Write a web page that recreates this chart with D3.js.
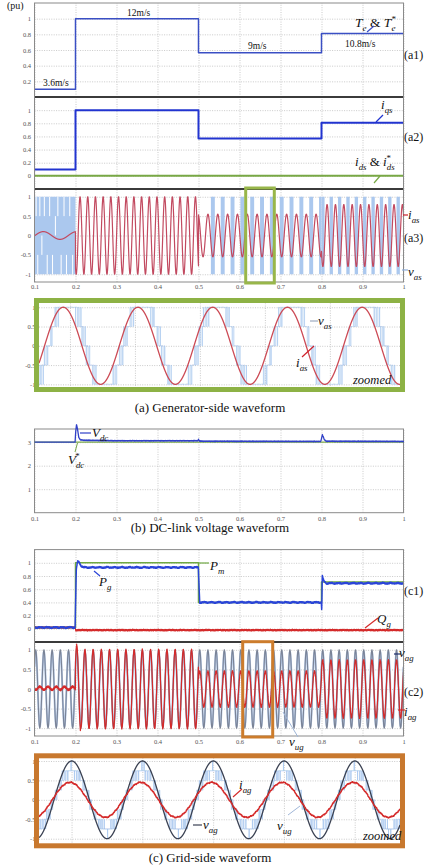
<!DOCTYPE html>
<html><head><meta charset="utf-8">
<script src="https://cdn.jsdelivr.net/npm/d3@7"></script>
<style>body{margin:0;background:#fff}svg{display:block}text{font-family:"Liberation Serif","Times New Roman",serif;fill:#111}</style>
</head><body><svg id="c" width="425" height="867"></svg>
<script>
// ================= DATA =================
const xTicks = [0.1,0.2,0.3,0.4,0.5,0.6,0.7,0.8,0.9,1];
const xTickLabels = ["0.1","0.2","0.3","0.4","0.5","0.6","0.7","0.8","0.9","1"];
const segT = [0.1,0.2,0.5,0.8,1.0];
const windLabels = ["3.6m/s","12m/s","9m/s","10.8m/s"];
// (a1) torque
const teVals = [0.1,1.0,0.565,0.81];
const a1Ticks = [0.2,0.4,0.6,0.8,1], a1Labels = ["0.2","0.4","0.6","0.8","1"];
// (a2) currents
const iqsVals = [0.095,1.0,0.57,0.81];
const idsVals = [0,0,0,0];
const a2Ticks = [0,0.2,0.4,0.6,0.8,1], a2Labels = ["0","0.2","0.4","0.6","0.8","1"];
// (a3) stator current / voltage
const pmTicks = [-1,-0.5,0,0.5,1], pmLabels = ["-1","-0.5","0","0.5","1"];
const iasAmp = [0.1,1.0,0.55,0.8];
const iasFreq = [12.3,53.3,41.7,49];
const iasPeak = [0.1215,0.2111,0.571,0.8136];
const vasGapT  = [0.104,0.108,0.113,0.118,0.124,0.131,0.137,0.144,0.151,0.157,0.165,0.172,0.178,0.186,0.193];
const vasGapLo = [0.5,-1,0.5,-0.5,0.5,-1,0.5,-1,0,0.5,-1,0.5,-1,0.5,-1];
const vasGapHi = [1,-0.5,1,0,1,-0.5,1,-0.5,0.5,1,-0.5,1,-0.5,1,-0.5];
// zoomed (a)
const zaWindow = [0.615,0.685];
const zaFreq = 69, zaPeak = 0.6197, zaIasAmp = 1.0;
const zaVasAmp = 1.25, zaVasLag = 0.0008, zaCarrier = 2400, zaStep = 0.5;
const zaGrid = [0.621,0.6336,0.6462,0.6588,0.6714];
const zTicks = [-1,-0.5,0,0.5,1], zLabels = ["-1","-0.5","0","0.5","1"];
// (b) DC link
const bTicks = [1,2,3], bLabels = ["1","2","3"];
const vdcT = [0.1,0.199,0.2005,0.2025,0.205,0.208,0.212,0.22,0.3,0.498,0.5,0.502,0.51,0.798,0.8,0.802,0.804,0.807,0.812,1.0];
const vdcV = [3.0,3.0,3.45,3.75,3.55,3.2,3.1,3.08,3.06,3.06,3.12,3.05,3.04,3.03,3.15,3.32,3.25,3.1,3.04,3.03];
const vdcRef = 3.0;
// (c1) powers
const c1Ticks = [0,0.2,0.4,0.6,0.8,1], c1Labels = ["0","0.2","0.4","0.6","0.8","1"];
const pmVals = [0.02,1.0,0.4,0.71];
const pgT = [0.1,0.199,0.202,0.205,0.209,0.214,0.22,0.4995,0.503,0.7995,0.8005,0.802,0.806,0.812,1.0];
const pgV = [0.02,0.02,0.9,1.02,1.01,0.95,0.93,0.93,0.4,0.4,0.28,0.8,0.72,0.69,0.69];
const qgVals = [0.02,-0.02,-0.02,-0.02];
// (c2) grid voltage / current
const gridFreq = 50, vagAmp = 1.0, vagPeak = 0.103, vugAmp = 0.95;
const iagAmp = [-0.04,1.0,0.45,0.73];
const iagOff = [0.02,0,0,0];
const iagOvershoot = 1.12;
// zoomed (c)
const zcWindow = [0.615,0.717];
const zcVagPeak = 0.62424, zcIagAmp = 0.45, zcIagLead = 0.0005;
const zcVugAmp = 0.76, zcCarrier = 1600, zcStep = 0.25;
const zcGrid = [0.6242,0.6442,0.6642,0.6842,0.7042];
// ripple texture
const rippleF = [731,1937,3571,5113], rippleA = [0.5,0.3,0.25,0.15];

// ================= HELPERS =================
const svg = d3.select('#c');
const X0 = 34.5, X1 = 403.5;
const X = d3.scaleLinear().domain([0.1,1]).range([X0,X1]);
const TAU = Math.PI*2;
const ripple = t => rippleF.reduce((s,f,i)=>s+rippleA[i]*Math.sin(TAU*f*t+i*1.7),0);
const seg = t => Math.max(0,Math.min(3, d3.bisectRight(segT,t)-1));
const samples = (a,b,n) => d3.range(n+1).map(i=>a+(b-a)*i/n);
const SANS = 'Liberation Sans, Arial, sans-serif';

function styleAxis(a){
  a.select('.domain').remove();
  a.selectAll('.tick line').attr('stroke','#bdbdbd').attr('stroke-dasharray','1,1.4').attr('stroke-width',0.8);
  a.selectAll('text').attr('font-family',SANS).attr('font-size',6.5).style('fill','#555');
}
function panel(top,bottom,dom,yt,yl,showX,pad,xs,xt,x0,x1){
  xs = xs||X; xt = xt||xTicks; x0 = x0||X0; x1 = x1||X1;
  const y = d3.scaleLinear().domain(dom).range([bottom,top]);
  svg.append('g').attr('transform',`translate(0,${bottom})`)
    .call(d3.axisBottom(xs).tickValues(xt).tickFormat((d,i)=>showX?xTickLabels[i]:'').tickSize(-(bottom-top)).tickPadding(pad||3))
    .call(styleAxis);
  svg.append('g').attr('transform',`translate(${x0},0)`)
    .call(d3.axisLeft(y).tickValues(yt).tickFormat((d,i)=>yl[i]).tickSize(-(x1-x0)).tickPadding(3.5))
    .call(styleAxis);
  return y;
}
function frame(top,bottom){
  svg.append('rect').attr('x',X0).attr('y',top).attr('width',X1-X0).attr('height',bottom-top)
    .attr('fill','none').attr('stroke','#8a8a8a').attr('stroke-width',1);
}
function clip(id,x,y,w,h){
  svg.append('clipPath').attr('id',id).append('rect').attr('x',x).attr('y',y).attr('width',w).attr('height',h);
  return `url(#${id})`;
}
function path(data,xs,ys,color,w,cp,curve){
  const ln = d3.line().x(d=>xs(d[0])).y(d=>ys(d[1]));
  if(curve) ln.curve(curve);
  const p = svg.append('path').attr('d',ln(data)).attr('fill','none').attr('stroke',color).attr('stroke-width',w).attr('stroke-linejoin','round');
  if(cp) p.attr('clip-path',cp);
  return p;
}
function stepData(vals){ return segT.map((t,i)=>[t, vals[Math.min(i,vals.length-1)]]); }
function lead(x1,y1,x2,y2,c,w){ svg.append('line').attr('x1',x1).attr('y1',y1).attr('x2',x2).attr('y2',y2).attr('stroke',c).attr('stroke-width',w||1); }
function lab(x,y,parts,size){
  const t = svg.append('text').attr('x',x).attr('y',y).attr('font-size',size);
  let cur = 0;
  parts.forEach(p=>{
    const ts = t.append('tspan').text(p.s).attr('font-style',p.it?'italic':'normal');
    let target = 0, fs = size;
    if(p.sub){target = size*0.28; fs = size*0.68;}
    if(p.sup){target = -size*0.38; fs = size*0.68;}
    ts.attr('font-size',fs).attr('dy',target-cur);
    if(p.dx) ts.attr('dx',p.dx);
    cur = target;
  });
  return t;
}
function pwm(t,ref,fc,step){
  let r = ref(t);
  const ph = (t*fc)%1; const tri = Math.abs(ph*2-1);
  const b = Math.floor(r/step); const fr = r/step-b;
  return Math.max(-1,Math.min(1,step*(b+(fr>tri?1:0))));
}

// ================= (a1) =================
lab(7,9,[{s:'(pu)'}],10);
const yA1 = panel(3,97,[0,1.2],a1Ticks,a1Labels,false);
const cpA1 = clip('ca1',X0,3,X1-X0,94);
path(stepData(teVals),X,yA1,'#3a4fc4',1.5,cpA1,d3.curveStepAfter);
const wlPos = [[43,86],[127,16],[248,49],[345,47]];
windLabels.forEach((w,i)=>lab(wlPos[i][0],wlPos[i][1],[{s:w}],9.5));
lab(355,27,[{s:'T',it:1},{s:'e',it:1,sub:1},{s:' & '},{s:'T',it:1},{s:'e',it:1,sub:1},{s:'*',sup:1,dx:-4}],13.5);
lead(367,32,374,26,'#3a4fc4',1.2);
lab(404,59,[{s:'(a1)'}],12);

// ================= (a2) =================
const yA2 = panel(97,189,[-0.2,1.2],a2Ticks,a2Labels,false);
const cpA2 = clip('ca2',X0,97,X1-X0,92);
path(stepData(idsVals),X,yA2,'#78a845',2,cpA2,d3.curveStepAfter);
path(stepData(iqsVals),X,yA2,'#2234d0',2,cpA2,d3.curveStepAfter);
lab(381,109,[{s:'i',it:1},{s:'qs',it:1,sub:1}],13);
lead(376,122,383,115,'#2234d0',1.2);
lab(355,166,[{s:'i',it:1},{s:'ds',it:1,sub:1},{s:' & '},{s:'i',it:1},{s:'ds',it:1,sub:1},{s:'*',sup:1,dx:-8}],13);
lead(374,183,380,176,'#78a845',1.2);
lab(404,141,[{s:'(a2)'}],12);

// ================= (a3) =================
const yA3 = panel(189,282,[-1.2,1.2],pmTicks,pmLabels,true,2.7);
const cpA3 = clip('ca3',X0,189,X1-X0,93);
const vasC = '#abc8ee';
svg.append('rect').attr('x',X(segT[0])).attr('width',X(segT[1])-X(segT[0])).attr('y',yA3(1)).attr('height',yA3(-1)-yA3(1)).attr('fill',vasC);
vasGapT.forEach((t,i)=>lead(X(t),yA3(vasGapHi[i]),X(t),yA3(vasGapLo[i]),'#ffffff',1));
[2,3].forEach(k=>{
  const T = 1/iasFreq[k], w = 0.4*T;
  for(let c = iasPeak[k]+T/2-2*T; c < segT[k+1]+T; c += T){
    const a = Math.max(segT[k],c-w/2), b = Math.min(segT[k+1],c+w/2);
    if(b>a) svg.append('rect').attr('x',X(a)).attr('width',X(b)-X(a)).attr('y',yA3(1)).attr('height',yA3(-1)-yA3(1)).attr('fill',vasC);
  }
});
const iasData = samples(0.1,1,6000).map(t=>{const k=seg(t);return [t,iasAmp[k]*Math.cos(TAU*iasFreq[k]*(t-iasPeak[k]))];});
path(iasData,X,yA3,'#c24a60',1.2,cpA3);
svg.append('line').attr('x1',X0).attr('x2',X1).attr('y1',97).attr('y2',97).attr('stroke','#3b3b3b').attr('stroke-width',2.2);
svg.append('line').attr('x1',X0).attr('x2',X1).attr('y1',189).attr('y2',189).attr('stroke','#3b3b3b').attr('stroke-width',2.2);
frame(3,282);
svg.append('rect').attr('x',245.7).attr('y',188).attr('width',28.6).attr('height',95).attr('fill','none').attr('stroke','#98b64a').attr('stroke-width',3);
lead(403,215,408,215,'#c8202a',1.2);
lab(408,219,[{s:'i',it:1},{s:'as',it:1,sub:1}],13);
lab(404,242,[{s:'(a3)'}],12);
lead(402,270,408,270,'#8fb0dc',1.2);
lab(408,276,[{s:'v',it:1},{s:'as',it:1,sub:1}],13);

// ================= zoomed (a) =================
const zaX = d3.scaleLinear().domain(zaWindow).range([39,400]);
const zaY = panel(303.4,388.2,[-1.1,1.1],zTicks,zLabels,false,3,zaX,zaGrid,39,400);
const cpZA = clip('cza',39,303,361,85.5);
const zaT = samples(zaWindow[0],zaWindow[1],361*16);
const vasRef = t=>zaVasAmp*Math.cos(TAU*zaFreq*(t-zaPeak-zaVasLag));
path(zaT.map(t=>[t,pwm(t,vasRef,zaCarrier,zaStep)]),zaX,zaY,'#aecbef',0.7,cpZA,d3.curveStepAfter);
path(zaT.map(t=>[t,zaIasAmp*Math.cos(TAU*zaFreq*(t-zaPeak))]),zaX,zaY,'#cc4a55',1.3,cpZA);
svg.append('rect').attr('x',36.5).attr('y',300.5).attr('width',366).attr('height',89).attr('fill','none').attr('stroke','#8db245').attr('stroke-width',5);
lead(310,321,318,321,'#8a9ab4',1);
lab(318,325,[{s:'v',it:1},{s:'as',it:1,sub:1}],13);
lead(302,357,314,346,'#d0202a',1.2);
lab(296,367,[{s:'i',it:1},{s:'as',it:1,sub:1}],13);
lab(353,384,[{s:'zoomed',it:1}],12.5);
lab(210,412,[{s:'(a) Generator-side waveform'}],13).attr('text-anchor','middle');

// ================= (b) =================
const yB = panel(429,512.7,[0,3.56],bTicks,bLabels,true,3.2);
frame(429,512.7);
path(vdcT.map(t=>[t,vdcRef]),X,yB,'#7aa84a',1.2);
const vdcL = d3.scaleLinear().domain(vdcT).range(vdcV);
path(samples(0.1,1,4500).map(t=>[t,vdcL(t)+(t>0.21?0.012*ripple(t):0)]),X,yB,'#3040c8',1.3);
lead(80,433,91,433,'#3040c8',1.2);
lab(92,437,[{s:'V',it:1},{s:'dc',it:1,sub:1}],13);
lead(77.5,443,75,452,'#7aa84a',1);
lab(68,464,[{s:'V',it:1},{s:'dc',it:1,sub:1},{s:'*',sup:1,dx:-9}],13);
lab(210,532,[{s:'(b) DC-link voltage waveform'}],13).attr('text-anchor','middle');

// ================= (c1) =================
const yC1 = panel(549.6,642,[-0.2,1.2],c1Ticks,c1Labels,false);
const cpC1 = clip('cc1',X0,549.6,X1-X0,92.4);
path(samples(0.1,1,4500).map(t=>[t,qgVals[seg(t)]+0.014*ripple(t)]),X,yC1,'#d42a2a',1.1,cpC1);
path(stepData(pmVals),X,yC1,'#6fa842',1.5,cpC1,d3.curveStepAfter);
const pgL = d3.scaleLinear().domain(pgT).range(pgV);
path(samples(0.1,1,4500).map(t=>[t,pgL(t)+0.005*Math.sin(TAU*55*t)+0.01*ripple(t)]),X,yC1,'#2a44d8',1.5,cpC1);
lead(199,563,209,563,'#6fa842',1.2);
lab(210,570,[{s:'P',it:1},{s:'m',it:1,sub:1}],13);
lead(94,571,100,576,'#2a44d8',1.2);
lab(99,586,[{s:'P',it:1},{s:'g',it:1,sub:1}],13);
lead(365,628,378,618,'#d42a2a',1.2);
lab(377,623,[{s:'Q',it:1},{s:'g',it:1,sub:1}],13);
lab(404,595,[{s:'(c1)'}],12);

// ================= (c2) =================
const yC2 = panel(642,736,[-1.2,1.2],pmTicks,pmLabels,true,3);
const cpC2 = clip('cc2',X0,642,X1-X0,94);
const gT = samples(0.1,1,9000);
const vagF = t=>Math.cos(TAU*gridFreq*(t-vagPeak));
path(gT.map(t=>[t,vugAmp*vagF(t)]),X,yC2,'#b4c8e6',2,cpC2);
path(gT.map(t=>[t,vagAmp*vagF(t)]),X,yC2,'#7a8396',1.1,cpC2);
path(gT.map(t=>{const k=seg(t);let a=iagAmp[k];if(k===1&&t<0.212)a=iagOvershoot;
  return [t,iagOff[k]+a*vagF(t)+0.025*ripple(t)];}),X,yC2,'#d42a2a',1.2,cpC2);
svg.append('line').attr('x1',X0).attr('x2',X1).attr('y1',642).attr('y2',642).attr('stroke','#3b3b3b').attr('stroke-width',2.2);
frame(549.6,736);
svg.append('rect').attr('x',242.7).attr('y',641.7).attr('width',30).attr('height',95.3).attr('fill','none').attr('stroke','#cc7c2c').attr('stroke-width',3);
lead(394,654,401,654,'#1d2d6b',1.2);
lab(399,657,[{s:'v',it:1},{s:'ag',it:1,sub:1}],13);
lab(404,696,[{s:'(c2)'}],12);
lead(398,710,405,710,'#d42a2a',1.2);
lab(404,716,[{s:'i',it:1},{s:'ag',it:1,sub:1}],13);
lead(283,712,298,737,'#9fb6d8',1);
lab(289,746,[{s:'v',it:1},{s:'ug',it:1,sub:1}],13);

// ================= zoomed (c) =================
const zcX = d3.scaleLinear().domain(zcWindow).range([39,400]);
const zcY = panel(757.1,842.6,[-1.1,1.1],zTicks,zLabels,false,3,zcX,zcGrid,39,400);
const cpZC = clip('czc',39,757,361,86);
const zcT = samples(zcWindow[0],zcWindow[1],361*16);
const zVag = t=>Math.cos(TAU*gridFreq*(t-zcVagPeak));
const vugRef = t=>zcVugAmp*zVag(t);
path(zcT.map(t=>[t,pwm(t,vugRef,zcCarrier,zcStep)]),zcX,zcY,'#aecbef',0.9,cpZC,d3.curveStepAfter);
path(zcT.map(t=>[t,zVag(t)]),zcX,zcY,'#3a4152',1.3,cpZC);
path(zcT.map(t=>[t,zcIagAmp*Math.cos(TAU*gridFreq*(t-zcVagPeak+zcIagLead))+0.018*ripple(t)]),zcX,zcY,'#d42a2a',1.5,cpZC);
svg.append('rect').attr('x',36.5).attr('y',755.8).attr('width',366).attr('height',90).attr('fill','none').attr('stroke','#c8782e').attr('stroke-width',5);
lead(233,797,242,789,'#d42a2a',1.2);
lab(239,789,[{s:'i',it:1},{s:'ag',it:1,sub:1}],13);
lead(193,825,202,825,'#3a4152',1.2);
lab(203,829,[{s:'v',it:1},{s:'ag',it:1,sub:1}],13);
lead(288,815,300,806,'#9fb6d8',1);
lab(277,830,[{s:'v',it:1},{s:'ug',it:1,sub:1}],13);
lab(363,840,[{s:'zoomed',it:1}],12.5);
lab(210,862,[{s:'(c) Grid-side waveform'}],13).attr('text-anchor','middle');
</script></body></html>
